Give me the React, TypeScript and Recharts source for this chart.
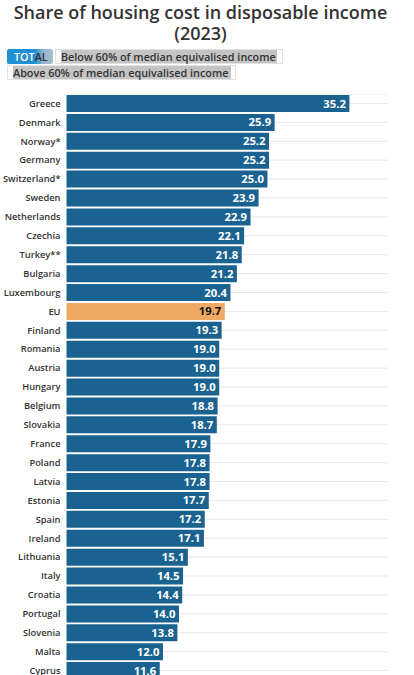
import { Bar, BarChart, CartesianGrid, Cell, LabelList, XAxis, YAxis } from 'recharts'

const countries = [
  'Greece', 'Denmark', 'Norway*', 'Germany', 'Switzerland*', 'Sweden', 'Netherlands', 'Czechia',
  'Turkey**', 'Bulgaria', 'Luxembourg', 'EU', 'Finland', 'Romania', 'Austria', 'Hungary',
  'Belgium', 'Slovakia', 'France', 'Poland', 'Latvia', 'Estonia', 'Spain', 'Ireland',
  'Lithuania', 'Italy', 'Croatia', 'Portugal', 'Slovenia', 'Malta', 'Cyprus',
]
const shares = [
  35.2, 25.9, 25.2, 25.2, 25.0, 23.9, 22.9, 22.1,
  21.8, 21.2, 20.4, 19.7, 19.3, 19.0, 19.0, 19.0,
  18.8, 18.7, 17.9, 17.8, 17.8, 17.7, 17.2, 17.1,
  15.1, 14.5, 14.4, 14.0, 13.8, 12.0, 11.6,
]
const highlighted = 'EU'

const rows = countries.map((name, i) => ({ name, share: shares[i] }))

const FONT = '"Open Sans", sans-serif'

const btn = {
  position: 'absolute' as const,
  height: 15,
  lineHeight: '15px',
  fontSize: 10.8,
  fontWeight: 600,
  color: '#333',
  whiteSpace: 'nowrap' as const,
  boxSizing: 'border-box' as const,
}

function ValueLabel(props: any) {
  const { x, y, width, height, value, index } = props
  return (
    <text
      x={x + width - 3.5}
      y={y + height / 2 + 4}
      textAnchor="end"
      fontFamily={FONT}
      fontSize={11.3}
      fontWeight={700}
      fill={countries[index] === highlighted ? '#111' : '#fff'}
    >
      {value.toFixed(1)}
    </text>
  )
}

export default function App() {
  return (
    <div style={{ position: 'fixed', left: 0, top: 0, width: 414, height: 675, overflow: 'hidden', background: '#fff', fontFamily: FONT }}>
      <div style={{ position: 'absolute', left: 0, top: 2, width: 401, textAlign: 'center', fontSize: 18, fontWeight: 600, lineHeight: '21px', color: '#333' }}>
        Share of housing cost in disposable income
        <br />
        (2023)
      </div>
      <div style={{ ...btn, left: 7, top: 49, width: 46, paddingLeft: 7, borderRadius: 2, background: 'linear-gradient(90deg, #2090d4 0%, #2090d4 62%, #8fb4cc 78%, #a8c0d0 100%)' }}>
        <span style={{ color: '#fff' }}>TOT</span>AL
      </div>
      <div style={{ ...btn, left: 55, top: 49, width: 228, paddingLeft: 5, border: '1px solid #e2e2e2', lineHeight: '13px', background: 'linear-gradient(90deg, #fff 0, #fff 5px, #c4c4c4 5px, #c4c4c4 221px, #fff 221px)' }}>
        Below 60% of median equivalised income
      </div>
      <div style={{ ...btn, left: 7, top: 65, width: 229, paddingLeft: 5, border: '1px solid #e2e2e2', lineHeight: '13px', background: 'linear-gradient(90deg, #fff 0, #fff 5px, #c4c4c4 5px, #c4c4c4 223px, #fff 223px)' }}>
        Above 60% of median equivalised income
      </div>
      <div style={{ position: 'absolute', left: 0, top: 94 }}>
        <BarChart
          width={414}
          height={586}
          data={rows}
          layout="vertical"
          barCategoryGap={1}
          margin={{ top: 0, right: 26, bottom: 0, left: 0 }}
        >
          <CartesianGrid horizontal vertical={false} stroke="#e8e8e8" />
          <XAxis type="number" domain={[0, 40]} hide />
          <YAxis
            type="category"
            dataKey="name"
            width={66.5}
            interval={0}
            axisLine={false}
            tickLine={false}
            tickMargin={0}
            tick={{ fontFamily: FONT, fontSize: 9.3, fontWeight: 600, fill: '#333', dx: 0 }}
          />
          <Bar dataKey="share" isAnimationActive={false}>
            {rows.map((r) => (
              <Cell key={r.name} fill={r.name === highlighted ? '#f0a965' : '#1a6390'} />
            ))}
            <LabelList dataKey="share" content={ValueLabel} />
          </Bar>
        </BarChart>
      </div>
    </div>
  )
}
